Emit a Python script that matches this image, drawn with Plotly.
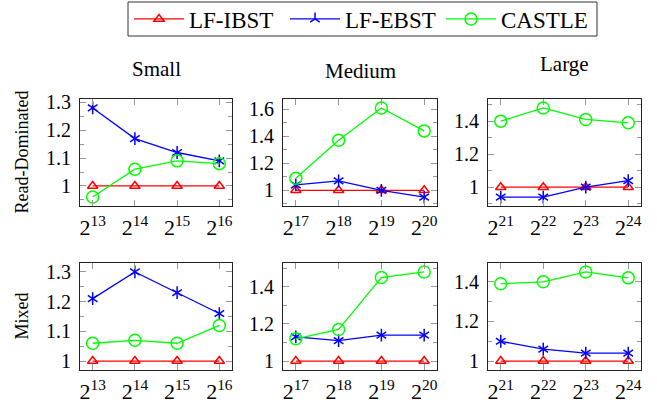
import plotly.graph_objects as go

# ---------------- data ----------------
methods = ["LF-IBST", "LF-EBST", "CASTLE"]
size_groups = ["Small", "Medium", "Large"]
workloads = ["Read-Dominated", "Mixed"]
exponents_small = [13, 14, 15, 16]
exponents_medium = [17, 18, 19, 20]
exponents_large = [21, 22, 23, 24]

# Read-Dominated
rd_small_ibst = [1.00, 1.00, 1.00, 1.00]
rd_small_ebst = [1.28, 1.17, 1.12, 1.09]
rd_small_castle = [0.96, 1.06, 1.09, 1.08]
rd_medium_ibst = [1.00, 1.00, 1.00, 1.00]
rd_medium_ebst = [1.04, 1.07, 1.00, 0.95]
rd_medium_castle = [1.09, 1.37, 1.61, 1.44]
rd_large_ibst = [1.00, 1.00, 1.00, 1.00]
rd_large_ebst = [0.94, 0.94, 1.00, 1.04]
rd_large_castle = [1.40, 1.48, 1.41, 1.39]
# Mixed
mx_small_ibst = [1.00, 1.00, 1.00, 1.00]
mx_small_ebst = [1.21, 1.30, 1.23, 1.16]
mx_small_castle = [1.06, 1.07, 1.06, 1.12]
mx_medium_ibst = [1.00, 1.00, 1.00, 1.00]
mx_medium_ebst = [1.13, 1.11, 1.14, 1.14]
mx_medium_castle = [1.12, 1.17, 1.45, 1.48]
mx_large_ibst = [1.00, 1.00, 1.00, 1.00]
mx_large_ebst = [1.10, 1.06, 1.04, 1.04]
mx_large_castle = [1.39, 1.40, 1.45, 1.42]

exponents = [exponents_small, exponents_medium, exponents_large]
panels = [
    [(rd_small_ibst, rd_small_ebst, rd_small_castle),
     (rd_medium_ibst, rd_medium_ebst, rd_medium_castle),
     (rd_large_ibst, rd_large_ebst, rd_large_castle)],
    [(mx_small_ibst, mx_small_ebst, mx_small_castle),
     (mx_medium_ibst, mx_medium_ebst, mx_medium_castle),
     (mx_large_ibst, mx_large_ebst, mx_large_castle)],
]
major_dtick = [0.1, 0.2, 0.2]

# ---------------- style ----------------
W, H = 657, 403
FONT = "Liberation Serif"
colors = ["#ff0000", "#0000ff", "#00ff00"]
col_px = [(80, 232), (283, 437), (488, 641)]
row_px = [(99, 206), (263, 370)]

fig = go.Figure()

def axname(i):
    return "" if i == 1 else str(i)

k = 0
for r in range(2):
    for c in range(3):
        k += 1
        xa, ya = "x" + axname(k), "y" + axname(k)
        xs = exponents[c]
        ibst, ebst, castle = panels[r][c]
        first = (k == 1)
        fig.add_trace(go.Scatter(
            x=xs, y=ibst, xaxis=xa, yaxis=ya, name=methods[0], legendgroup=methods[0],
            showlegend=first, mode="lines+markers",
            line=dict(color=colors[0], width=1.3),
            marker=dict(symbol="triangle-up-open", size=9, color=colors[0], line=dict(width=1.5, color=colors[0]))))
        fig.add_trace(go.Scatter(
            x=xs, y=ebst, xaxis=xa, yaxis=ya, name=methods[1], legendgroup=methods[1],
            showlegend=first, mode="lines+markers",
            line=dict(color=colors[1], width=1.3),
            marker=dict(symbol="y-up-open", size=8, color=colors[1], line=dict(width=1.5, color=colors[1]))))
        fig.add_trace(go.Scatter(
            x=xs, y=ebst, xaxis=xa, yaxis=ya, name=methods[1], legendgroup=methods[1],
            showlegend=False, mode="markers",
            marker=dict(symbol="y-down-open", size=8, color=colors[1], line=dict(width=1.5, color=colors[1]))))
        fig.add_trace(go.Scatter(
            x=xs, y=castle, xaxis=xa, yaxis=ya, name=methods[2], legendgroup=methods[2],
            showlegend=first, mode="lines+markers",
            line=dict(color=colors[2], width=1.3),
            marker=dict(symbol="circle-open", size=12, color=colors[2], line=dict(width=1.5, color=colors[2]))))

        allv = list(ibst) + list(ebst) + list(castle)
        lo, hi = min(allv), max(allv)
        pad = 0.1 * (hi - lo)
        x0, x1 = col_px[c]
        y0, y1 = row_px[r]
        fig.layout["xaxis" + axname(k)] = dict(
            domain=[x0 / W, x1 / W], anchor=ya, range=[xs[0] - 0.3, xs[-1] + 0.3],
            tickvals=xs, ticktext=[f"2<sup>{e}</sup>" for e in xs],
            showline=True, linecolor="#222", linewidth=1, mirror="ticks",
            ticks="inside", ticklen=6, tickcolor="#999", tickwidth=1,
            showgrid=False, zeroline=False, ticklabelstandoff=2,
            tickfont=dict(family=FONT, size=22, color="black"))
        fig.layout["yaxis" + axname(k)] = dict(
            domain=[1 - y1 / H, 1 - y0 / H], anchor=xa, range=[lo - pad, hi + pad],
            dtick=major_dtick[c], tick0=0,
            showline=True, linecolor="#222", linewidth=1, mirror="ticks",
            ticks="inside", ticklen=6, tickcolor="#999", tickwidth=1,
            minor=dict(dtick=major_dtick[c] / 2, ticks="inside", ticklen=4, tickcolor="#999", tickwidth=1, showgrid=False),
            showgrid=False, zeroline=False, ticklabelstandoff=4,
            tickfont=dict(family=FONT, size=20, color="black"))

annotations = []
title_y = [69, 71, 64]
for c, name in enumerate(size_groups):
    x0, x1 = col_px[c]
    annotations.append(dict(text=name, x=(x0 + x1) / 2 / W, y=1 - title_y[c] / H, xref="paper", yref="paper",
                            showarrow=False, xanchor="center", yanchor="middle",
                            font=dict(family=FONT, size=21, color="black")))
for r, name in enumerate(workloads):
    y0, y1 = row_px[r]
    annotations.append(dict(text=name, x=21 / W, y=1 - (y0 + y1) / 2 / H, xref="paper", yref="paper",
                            showarrow=False, xanchor="center", yanchor="middle", textangle=-90,
                            font=dict(family=FONT, size=18, color="black")))

# legend frame
legend_box = (128, 2, 597, 36)
shapes = [dict(type="rect", xref="paper", yref="paper",
               x0=legend_box[0] / W, x1=legend_box[2] / W,
               y0=1 - legend_box[3] / H, y1=1 - legend_box[1] / H,
               line=dict(color="#333", width=1), fillcolor="rgba(0,0,0,0)", layer="above")]

fig.update_layout(
    width=W, height=H, margin=dict(l=0, r=0, t=0, b=0, autoexpand=False),
    paper_bgcolor="white", plot_bgcolor="white",
    annotations=annotations, shapes=shapes,
    legend=dict(orientation="h", x=(legend_box[0] + 1) / W, y=1 - 19 / H, xanchor="left", yanchor="middle",
                borderwidth=0, bgcolor="rgba(0,0,0,0)",
                font=dict(family=FONT, size=23, color="black"), itemwidth=50, entrywidth=91),
)

fig.write_html("out.html", config={"displayModeBar": False},
               post_script="document.body.style.margin='0';document.body.style.padding='0';")
